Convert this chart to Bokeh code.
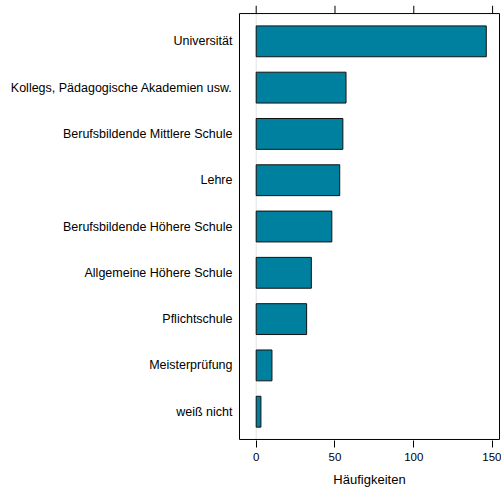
from bokeh.plotting import figure
from bokeh.models import Range1d, FixedTicker
from bokeh.embed import file_html
from bokeh.resources import INLINE

categories = ["Universität", "Kollegs, Pädagogische Akademien usw.",
              "Berufsbildende Mittlere Schule", "Lehre",
              "Berufsbildende Höhere Schule", "Allgemeine Höhere Schule",
              "Pflichtschule", "Meisterprüfung", "weiß nicht"]
counts = [146, 57, 55, 53, 48, 35, 32, 10, 3]
x_ticks = [0, 50, 100, 150]
x_title = "Häufigkeiten"

n = len(categories)
ypos = [n - i for i in range(n)]

FONT = "Liberation Sans"

# panel box (lattice-style) and the extra room above it for the top ticks
box_x0, box_x1 = -10.6, 154.4
box_y0, box_y1 = 0.4, n + 0.6
tick_top = box_y1 + 0.174

p = figure(width=501, height=489, output_backend="svg", toolbar_location=None,
           x_range=Range1d(box_x0 - 0.63, box_x1 + 0.62),
           y_range=Range1d(box_y0 - 0.022, tick_top),
           min_border_left=238, min_border_right=1, min_border_top=5,
           min_border_bottom=0)
p.grid.visible = False
p.outline_line_color = None
p.background_fill_color = "white"
p.border_fill_color = "white"

# faint reference line at zero
p.segment(x0=[0], y0=[box_y0], x1=[0], y1=[box_y1], line_color="#e3e3e3", line_width=1)

p.hbar(y=ypos, left=0, right=counts, height=2/3,
       fill_color="#00809F", line_color="#111111", line_width=1)

# panel border
p.segment(x0=[box_x0, box_x1, box_x0, box_x0],
          y0=[box_y0, box_y0, box_y0, box_y1],
          x1=[box_x0, box_x1, box_x1, box_x1],
          y1=[box_y1, box_y1, box_y0, box_y1],
          line_color="black", line_width=1)

# top tick marks
p.segment(x0=x_ticks, y0=[box_y1] * len(x_ticks),
          x1=x_ticks, y1=[tick_top] * len(x_ticks),
          line_color="black", line_width=1)

# bottom axis
bx = p.xaxis[0]
bx.ticker = FixedTicker(ticks=x_ticks)
bx.axis_label = x_title
bx.axis_line_color = None
bx.major_tick_line_color = "black"
bx.major_tick_out = 7
bx.major_tick_in = 0
bx.minor_tick_line_color = None
bx.major_label_standoff = 5
bx.major_label_text_font = FONT
bx.major_label_text_font_size = "11.5px"
bx.major_label_text_color = "black"
bx.axis_label_standoff = 8
bx.axis_label_text_font = FONT
bx.axis_label_text_font_size = "13px"
bx.axis_label_text_font_style = "normal"
bx.axis_label_text_color = "black"

# left axis: category labels
ly = p.yaxis[0]
ly.ticker = FixedTicker(ticks=ypos)
ly.major_label_overrides = {y: c for y, c in zip(ypos, categories)}
ly.axis_line_color = None
ly.major_tick_line_color = None
ly.major_tick_out = 0
ly.major_tick_in = 0
ly.minor_tick_line_color = None
ly.major_label_standoff = 6
ly.major_label_text_font = FONT
ly.major_label_text_font_size = "12.5px"
ly.major_label_text_color = "black"

open("out.html", "w").write(file_html(p, INLINE))
